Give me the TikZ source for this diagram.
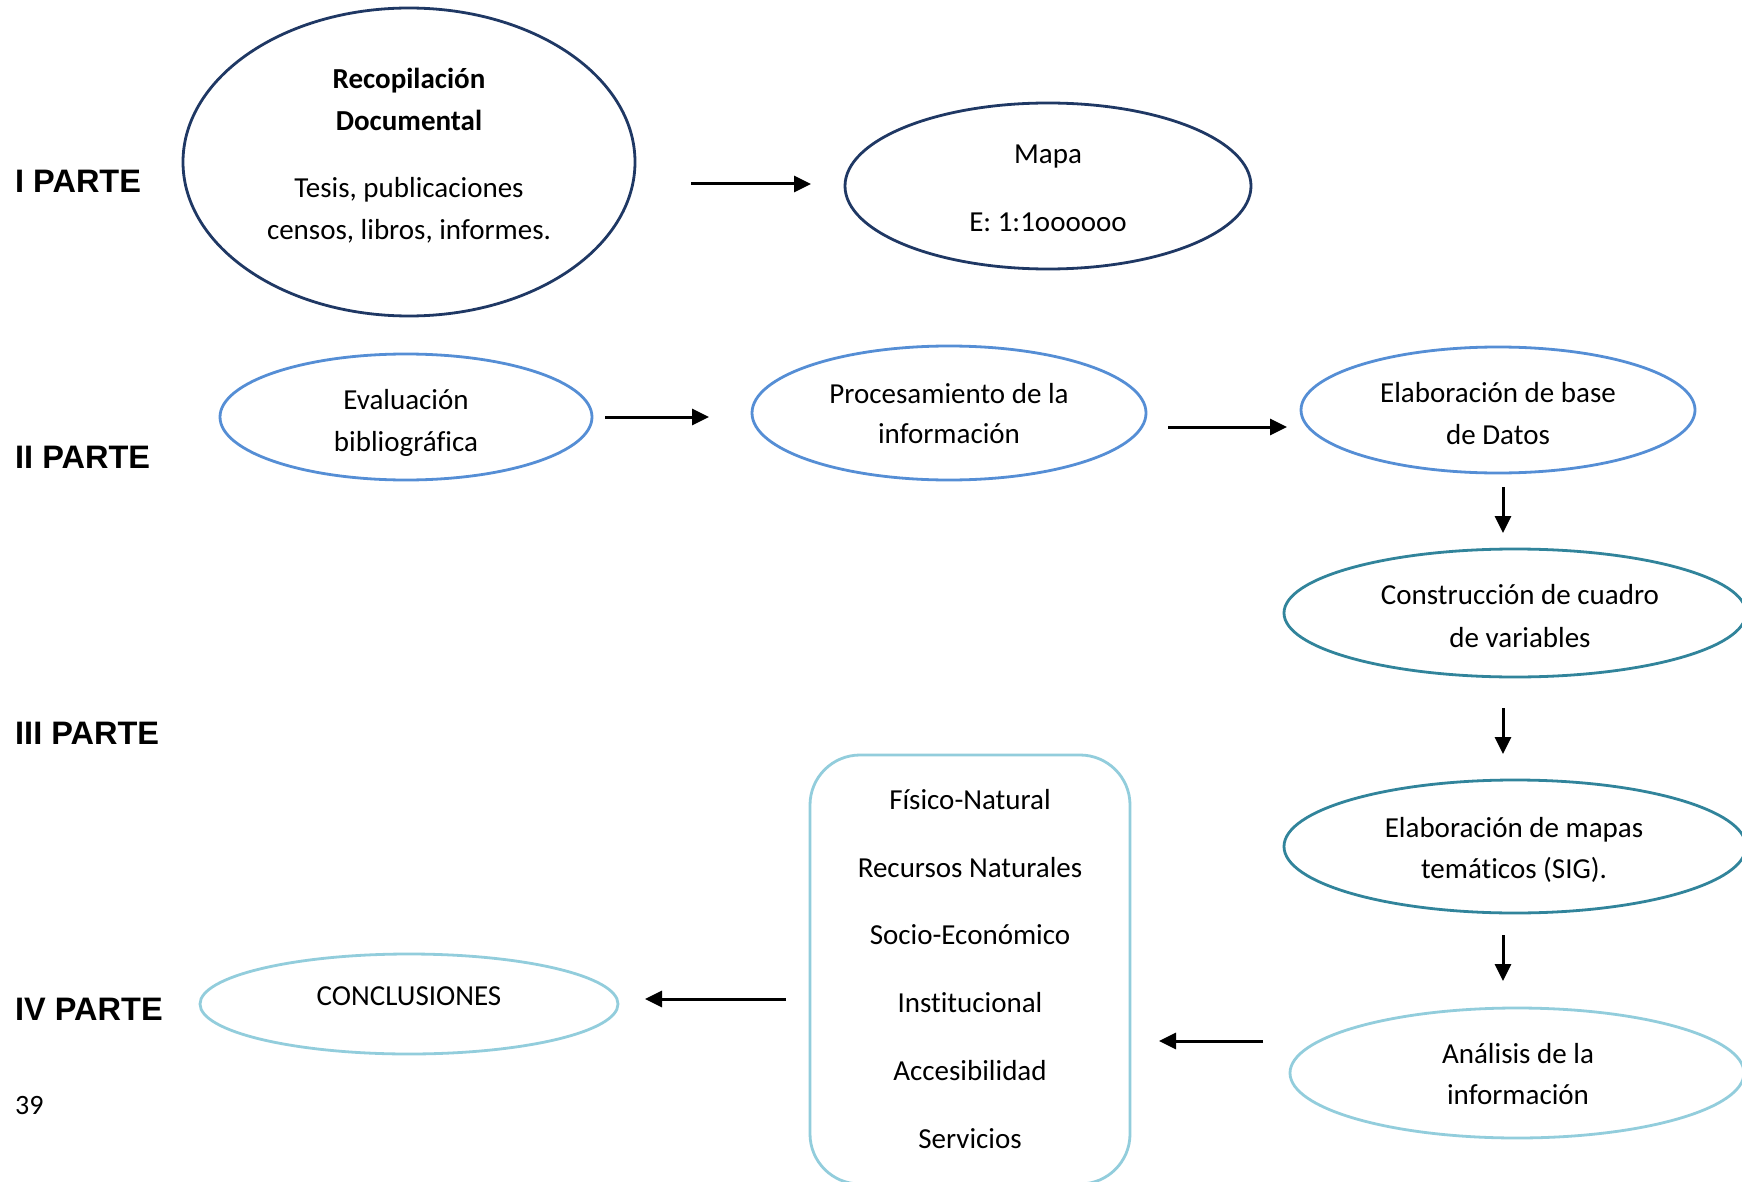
\documentclass[tikz,border=0pt]{standalone}
\usepackage{fontspec}
\setmainfont{Carlito}[Ligatures=NoCommon]
\newfontfamily\arialfont{Liberation Sans}
\usetikzlibrary{arrows.meta,shapes.geometric}
\definecolor{navy}{HTML}{1F3864}
\definecolor{midblue}{HTML}{558ED5}
\definecolor{teal}{HTML}{31849B}
\definecolor{lightblue}{HTML}{92CDDC}
\tikzset{
  ell/.style={ellipse, line width=2.8pt, inner sep=0pt},
  txt/.style={inner sep=0pt, text height=20pt, text depth=0pt, font=\fontsize{29}{35}\selectfont},
  btxt/.style={txt, font=\fontsize{29}{35}\selectfont\bfseries},
  parte/.style={inner sep=0pt, anchor=west, text height=23pt, text depth=0pt, font=\arialfont\fontsize{32.5}{38}\selectfont\bfseries},
  arr/.style={line width=3pt, -{Triangle[length=17pt,width=16pt]}},
}
\begin{document}
\begin{tikzpicture}[x=1pt,y=-1pt]
\useasboundingbox (0,0) rectangle (1742,1182);
\fill[white] (0,0) rectangle (1742,1182);

% part labels
\node[parte] (p1) at (15,181) {I PARTE};
\node[parte] (p2) at (15,457) {II PARTE};
\node[parte] (p3) at (15,733) {III PARTE};
\node[parte] (p4) at (15,1009) {IV PARTE};
\node[txt, anchor=west, font=\fontsize{28}{34}\selectfont] (pg) at (15,1104) {39};

% I PARTE
\node[ell, draw=navy, minimum width=452pt, minimum height=308pt] (recop) at (409,162) {};
\node[btxt] (recop1) at (409,79) {Recopilación};
\node[btxt] (recop2) at (409,121) {Documental};
\node[txt] (recop3) at (409,188) {Tesis, publicaciones};
\node[txt] (recop4) at (409,230) {censos, libros, informes.};

\node[ell, draw=navy, minimum width=406pt, minimum height=166pt] (mapa) at (1048,186) {};
\node[txt] (mapa1) at (1048,154) {Mapa};
\node[txt] (mapa2) at (1048,222) {E: 1:1oooooo};

% II PARTE
\node[ell, draw=midblue, minimum width=372pt, minimum height=126pt] (eval) at (406,417) {};
\node[txt] (eval1) at (406,399) {Evaluación};
\node[txt] (eval2) at (406,441) {bibliográfica};

\node[ell, draw=midblue, minimum width=394pt, minimum height=134pt] (proc) at (949,413) {};
\node[txt] (proc1) at (949,393) {Procesamiento de la};
\node[txt] (proc2) at (949,433) {información};

\node[ell, draw=midblue, minimum width=394pt, minimum height=126pt] (base) at (1498,410) {};
\node[txt] (base1) at (1498,392) {Elaboración de base};
\node[txt] (base2) at (1498,434) {de Datos};

% III PARTE
\node[ell, draw=teal, minimum width=462pt, minimum height=128pt] (cons) at (1515,613) {};
\node[txt] (cons1) at (1520,594) {Construcción de cuadro};
\node[txt] (cons2) at (1520,637) {de variables};

\node[ell, draw=teal, minimum width=462pt, minimum height=133pt] (mapas) at (1515,846.5) {};
\node[txt] (mapas1) at (1514,827) {Elaboración de mapas};
\node[txt] (mapas2) at (1514,868) {temáticos (SIG).};

% IV PARTE
\node[ell, draw=lightblue, minimum width=454pt, minimum height=130pt] (anal) at (1517,1073) {};
\node[txt] (anal1) at (1518,1053) {Análisis de la};
\node[txt] (anal2) at (1518,1094) {información};

\node[draw=lightblue, line width=2.8pt, rounded corners=50pt, minimum width=320pt, minimum height=429pt, inner sep=0pt] (box) at (970,969.5) {};
\node[txt] (b1) at (970,799) {Físico-Natural};
\node[txt] (b2) at (970,867) {Recursos Naturales};
\node[txt] (b3) at (970,934) {Socio-Económico};
\node[txt] (b4) at (970,1002) {Institucional};
\node[txt] (b5) at (970,1070) {Accesibilidad};
\node[txt] (b6) at (970,1138) {Servicios};

\node[ell, draw=lightblue, minimum width=418pt, minimum height=100pt] (concl) at (409,1004) {};
\node[txt] (concl1) at (409,995) {CONCLUSIONES};

% arrow end points
\coordinate (a1s) at (691,184);  \coordinate (a1e) at (811,184);
\coordinate (a2s) at (605,417);  \coordinate (a2e) at (709,417);
\coordinate (a3s) at (1168,427); \coordinate (a3e) at (1287,427);
\coordinate (d1s) at (1503,487); \coordinate (d1e) at (1503,533);
\coordinate (d2s) at (1503,708); \coordinate (d2e) at (1503,754);
\coordinate (d3s) at (1503,935); \coordinate (d3e) at (1503,981);
\coordinate (l1s) at (1263,1041); \coordinate (l1e) at (1159,1041);
\coordinate (l2s) at (786,999);  \coordinate (l2e) at (645,999);

\draw[arr] (a1s) -- (a1e);
\draw[arr] (a2s) -- (a2e);
\draw[arr] (a3s) -- (a3e);
\draw[arr] (d1s) -- (d1e);
\draw[arr] (d2s) -- (d2e);
\draw[arr] (d3s) -- (d3e);
\draw[arr] (l1s) -- (l1e);
\draw[arr] (l2s) -- (l2e);
\end{tikzpicture}
\end{document}
